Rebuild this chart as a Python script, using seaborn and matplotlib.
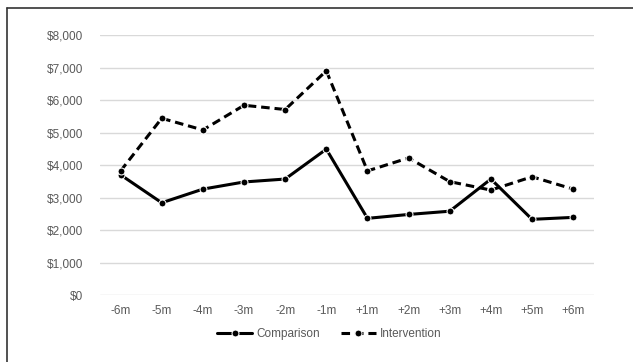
import pandas as pd
import matplotlib.pyplot as plt
import seaborn as sns
from matplotlib.lines import Line2D
from matplotlib.ticker import FuncFormatter

# valores
meses = ['-6m', '-5m', '-4m', '-3m', '-2m', '-1m', '+1m', '+2m', '+3m', '+4m', '+5m', '+6m']
comparison = [3700, 2840, 3260, 3480, 3570, 4490, 2360, 2480, 2580, 3570, 2330, 2390]
intervention = [3820, 5440, 5080, 5840, 5710, 6900, 3820, 4220, 3490, 3230, 3640, 3260]

df = pd.DataFrame({
    'mes': meses * 2,
    'valor': comparison + intervention,
    'grupo': ['Comparison'] * len(meses) + ['Intervention'] * len(meses),
})

sns.set_style('white')
plt.rcParams['font.family'] = ['Liberation Sans', 'DejaVu Sans']

fig = plt.figure(figsize=(6.33, 3.62), dpi=100)
ax = fig.add_axes([0.158, 0.185, 0.78, 0.718])

sns.lineplot(data=df, x='mes', y='valor', style='grupo', color='black',
             dashes={'Comparison': '', 'Intervention': (2.8, 1.6)},
             markers={'Comparison': 'o', 'Intervention': 'o'},
             markersize=5, linewidth=2.2, ax=ax, sort=False)

ax.set_xlim(-0.5, len(meses) - 0.5)
ax.set_ylim(0, 8000)
ax.set_yticks(range(0, 8001, 1000))
ax.yaxis.set_major_formatter(FuncFormatter(lambda v, p: f'${v:,.0f}'))
ax.grid(axis='y', color='#d9d9d9', linewidth=1)
ax.set_axisbelow(True)
for s in ax.spines.values():
    s.set_visible(False)
ax.tick_params(axis='both', length=0, labelsize=8.5, labelcolor='#595959')
ax.tick_params(axis='x', pad=7)
ax.tick_params(axis='y', pad=12)
ax.set_xlabel('')
ax.set_ylabel('')

leg = ax.legend(loc='center', bbox_to_anchor=(0.52, 0.077), bbox_transform=fig.transFigure,
                ncol=2, frameon=False, fontsize=8.5, handlelength=3.0, columnspacing=1.8,
                handletextpad=0.3)
for t in leg.get_texts():
    t.set_color('#595959')

# moldura do grafico
fig.add_artist(Line2D([7 / 633, 7 / 633], [0, 1 - 8 / 362], color='#333333', linewidth=1.2))
fig.add_artist(Line2D([7 / 633, 1], [1 - 8 / 362, 1 - 8 / 362], color='#333333', linewidth=1.2))

plt.savefig('out.png', dpi=100)
